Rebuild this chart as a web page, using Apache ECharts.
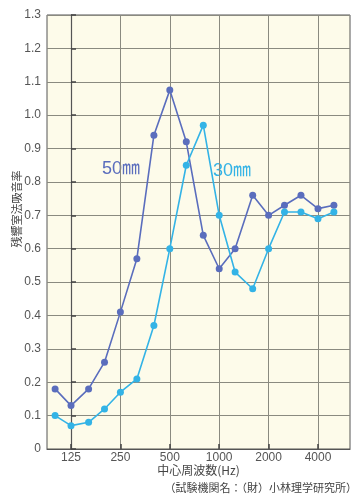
<!DOCTYPE html>
<html>
<head>
<meta charset="utf-8">
<script src="https://cdn.jsdelivr.net/npm/echarts@6/dist/echarts.min.js"></script>
<style>html,body{margin:0;padding:0;background:#fff}#c{width:362px;height:500px}</style>
</head>
<body>
<div id="c"></div>
<script>
const frequencies = [100,125,160,200,250,315,400,500,630,800,1000,1250,1600,2000,2500,3150,4000,5000];
const series50 = [0.18,0.13,0.18,0.26,0.41,0.57,0.94,1.075,0.92,0.64,0.54,0.60,0.76,0.70,0.73,0.76,0.72,0.73];
const series30 = [0.10,0.07,0.08,0.12,0.17,0.21,0.37,0.60,0.85,0.97,0.70,0.53,0.48,0.60,0.71,0.71,0.69,0.71];
const xTickLabels = [125,250,500,1000,2000,4000];
const seriesNames = ['50㎜','30㎜'];
const yName = '残響室法吸音率';
const xName = '中心周波数(Hz)';
const footer = '（試験機関名：（財）小林理学研究所）';

const pos = f => Math.log2(f / 125);
const labelOf = v => { let best = xTickLabels[0]; xTickLabels.forEach(t => { if (Math.abs(pos(t) - v) < Math.abs(pos(best) - v)) best = t; }); return String(best); };
const font = '"Liberation Sans", "Noto Sans CJK JP", sans-serif';
const dark = '#5a6dbd', light = '#33b3e6';

const chart = echarts.init(document.getElementById('c'));
chart.setOption({
  backgroundColor: '#fff',
  animation: false,
  textStyle: { fontFamily: font },
  grid: { left: 47, right: 12, top: 15, bottom: 51, containLabel: false, outerBoundsMode: 'none', show: true, backgroundColor: '#fdfbea', borderColor: '#555', borderWidth: 1 },
  xAxis: {
    type: 'value', min: -0.486, max: 5.648,
    name: xName, nameLocation: 'middle', nameGap: 15, nameMoveOverlap: false,
    nameTextStyle: { color: '#444', fontSize: 12, fontFamily: '"Noto Sans CJK JP", sans-serif' },
    axisLine: { lineStyle: { color: '#555', width: 1.2 } },
    axisTick: { show: true, inside: true, length: 5, lineStyle: { color: '#444', width: 1.5 }, customValues: xTickLabels.map(pos) },
    axisLabel: { color: '#555', fontSize: 12, margin: 3, customValues: xTickLabels.map(pos), formatter: v => labelOf(v) },
    splitLine: { show: true, lineStyle: { color: '#8a8a80', width: 1 } }
  },
  yAxis: {
    type: 'value', min: 0, max: 1.3, interval: 0.1,
    name: yName, nameLocation: 'middle', nameGap: 25, nameRotate: 90, nameMoveOverlap: false,
    nameTextStyle: { color: '#444', fontSize: 11, padding: [0, 0, 0, 46], fontFamily: '"Noto Sans CJK JP", sans-serif' },
    axisLine: { show: true, lineStyle: { color: '#555', width: 1.2 } },
    axisTick: { show: true, inside: true, length: 5, lineStyle: { color: '#444', width: 1.5 } },
    axisLabel: { color: '#555', fontSize: 12, margin: 6, formatter: v => v === 0 ? '0' : v.toFixed(1) },
    splitLine: { show: true, lineStyle: { color: '#8a8a80', width: 1 } }
  },
  series: [
    { name: seriesNames[0], type: 'line', data: frequencies.map((f, i) => [pos(f), series50[i]]),
      symbol: 'circle', symbolSize: 7, lineStyle: { color: dark, width: 1.6 }, itemStyle: { color: dark } },
    { name: seriesNames[1], type: 'line', data: frequencies.map((f, i) => [pos(f), series30[i]]),
      symbol: 'circle', symbolSize: 7, lineStyle: { color: light, width: 1.6 }, itemStyle: { color: light } }
  ],
  graphic: [
    { type: 'text', left: 102, top: 160, style: { text: seriesNames[0], fill: dark, font: '18px "Liberation Sans", "Noto Sans CJK JP", sans-serif' } },
    { type: 'text', left: 213, top: 162, style: { text: seriesNames[1], fill: light, font: '18px "Liberation Sans", "Noto Sans CJK JP", sans-serif' } },
    { type: 'text', right: 5, top: 482, style: { text: footer, fill: '#444', font: '11px "Noto Sans CJK JP", sans-serif' } }
  ]
});
</script>
</body>
</html>
